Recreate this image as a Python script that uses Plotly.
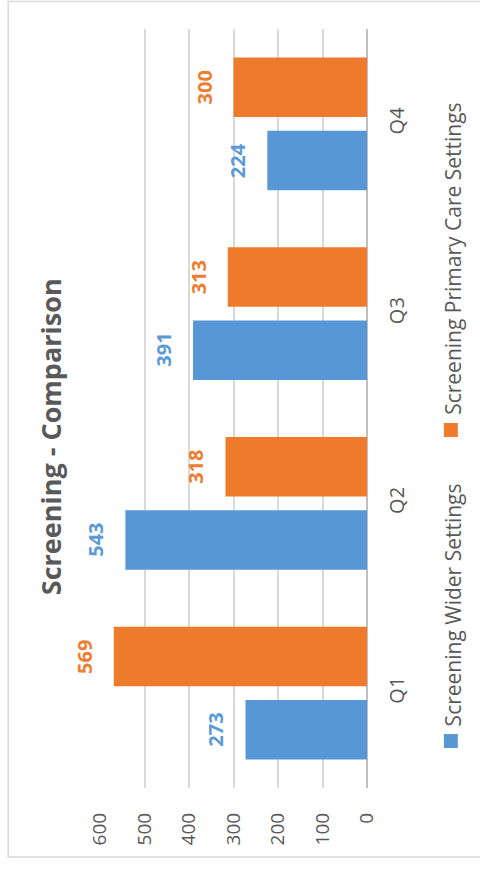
import plotly.graph_objects as go

# Quarterly screening counts
quarters = ["Q1", "Q2", "Q3", "Q4"]
wider_settings = [273, 543, 391, 224]
primary_care = [569, 318, 313, 300]
series_names = ["Screening Wider Settings", "Screening Primary Care Settings"]
value_ticks = [0, 100, 200, 300, 400, 500, 600]
chart_title = "Screening - Comparison"

BLUE = "#5797D6"
ORANGE = "#EE7A2C"
BLUE_TXT = "#5B9BD5"
ORANGE_TXT = "#ED7D31"
GREY = "#595959"
FONT = "Open Sans"

fig = go.Figure()
fig.add_trace(go.Bar(y=quarters, x=wider_settings, orientation="h",
                     name=series_names[0], marker=dict(color=BLUE, line=dict(width=0))))
fig.add_trace(go.Bar(y=quarters, x=primary_care, orientation="h",
                     name=series_names[1], marker=dict(color=ORANGE, line=dict(width=0))))

# value labels, rotated with the rest of the chart, sitting past the bar ends
annotations = []
for vals, color, shift in [(wider_settings, BLUE_TXT, -36.5), (primary_care, ORANGE_TXT, 36.5)]:
    for q, v in zip(quarters, vals):
        annotations.append(dict(x=v, y=q, xref="x", yref="y", text=str(v), showarrow=False,
                                textangle=-90, xanchor="right", yanchor="middle",
                                xshift=-14, yshift=shift,
                                font=dict(family=FONT, size=20, color=color, weight="bold")))

# title
annotations.append(dict(x=-0.185, y=0.463, xref="paper", yref="paper", text=f"<b>{chart_title}</b>",
                        showarrow=False, textangle=-90, xanchor="center", yanchor="middle",
                        font=dict(family=FONT, size=27, color=GREY)))

# legend entries
legend_y = [0.079, 0.4888]
for name, ly in zip(series_names, legend_y):
    annotations.append(dict(x=1.3215, y=ly, xref="paper", yref="paper", text=name,
                            showarrow=False, textangle=-90, xanchor="center", yanchor="bottom",
                            font=dict(family=FONT, size=21, color=GREY)))

shapes = [
    dict(type="rect", xref="paper", yref="paper", x0=1.2879, x1=1.3402, y0=0.0527, y1=0.0711,
         fillcolor=BLUE, line=dict(width=0)),
    dict(type="rect", xref="paper", yref="paper", x0=1.2879, x1=1.3402, y0=0.4625, y1=0.4809,
         fillcolor=ORANGE, line=dict(width=0)),
    # outer chart border
    dict(type="rect", xref="paper", yref="paper", x0=-0.3439, x1=1.43, y0=-0.0909, y1=1.0362,
         fillcolor="rgba(0,0,0,0)", line=dict(color="#D9D9D9", width=1.5)),
]

fig.update_layout(
    width=480, height=871,
    margin=dict(l=99.5, r=113, t=29, b=83),
    paper_bgcolor="white", plot_bgcolor="white",
    barmode="group", bargap=0.23, bargroupgap=0.185,
    showlegend=False,
    annotations=annotations, shapes=shapes,
    xaxis=dict(range=[600, 0], autorange=False, tickvals=value_ticks,
               tickangle=-90, ticklabelstandoff=20,
               showgrid=True, gridcolor="#D9D9D9", gridwidth=1.5,
               zeroline=True, zerolinecolor="#BFBFBF", zerolinewidth=1.5,
               showline=False, ticks="",
               tickfont=dict(family=FONT, size=19, color=GREY)),
    yaxis=dict(side="right", tickangle=-90, ticklabelstandoff=16, ticks="",
               showgrid=False, showline=False,
               tickfont=dict(family=FONT, size=20, color=GREY)),
)

fig.write_html("out.html")
